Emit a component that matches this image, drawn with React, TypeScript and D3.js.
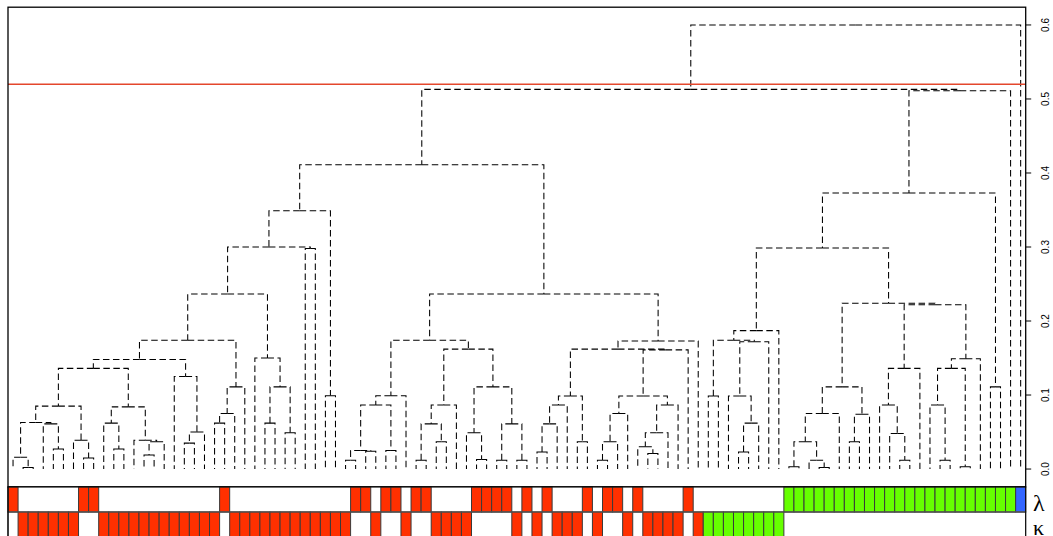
import React from "react";
import * as d3 from "d3";

type TreeNode = number | [number, TreeNode, TreeNode];

// ---- data: colour bars (one char per leaf, left to right) ----
const lambdaRow = ["R......RR.", "..........", ".R........", "....RR.RR.", "RR....RRRR", ".R.R...R.R", "R.R....R..", ".......GGG", "GGGGGGGGGG", "GGGGGGGGGG", "B"].join("");
const kappaRow = [".RRRRRR..R", "RRRRRRRRRR", "R.RRRRRRRR", "RRRR..R..R", "..RRRR....", "R.R.RRR.R.", ".R.RRRR.RG", "GGGGGGG...", "..........", "..........", "."].join("");
const rowLabels = ["λ", "κ"];
const cellColors: Record<string, string> = { R: "#ff3000", G: "#66ff00", B: "#3366ff" };

// ---- data: axis ----
const yTicks = [0, 0.1, 0.2, 0.3, 0.4, 0.5, 0.6];
const yTickLabels = ["0.0", "0.1", "0.2", "0.3", "0.4", "0.5", "0.6"];
const cutHeight = 0.52;

// ---- data: dendrogram (node = [height, left, right], leaf = leaf index) ----
const N1: TreeNode = [0.063, [0.016, 0, [0.002, 1, 2]], [0.061, 3, [0.027, 4, 5]]];
const N2: TreeNode = [0.085, N1, [0.039, 6, [0.015, 7, 8]]];
const K084: TreeNode = [0.084, [0.062, 9, [0.027, 10, 11]], [0.039, 12, [0.037, [0.019, 13, 14], 15]]];
const N3: TreeNode = [0.136, N2, K084];
const N4: TreeNode = [0.148, N3, [0.125, 16, [0.05, [0.035, 17, 18], 19]]];
const M111: TreeNode = [0.111, [0.075, [0.062, 20, 21], 22], 23];
const N174: TreeNode = [0.174, N4, M111];
const N150: TreeNode = [0.15, 24, [0.111, [0.062, 25, 26], [0.049, 27, 28]]];
const N6: TreeNode = [0.2365, N174, N150];
const S30: TreeNode = [0.3, N6, [0.298, 29, 30]];
const S35: TreeNode = [0.349, S30, [0.099, 31, 32]];

const U099: TreeNode = [0.099, [0.0865, [0.025, [0.012, 33, 34], [0.024, 35, 36]], [0.025, 37, 38]], 39];
const U162: TreeNode = [0.162, [0.0865, [0.061, [0.012, 40, 41], [0.037, 42, 43]], 44], [0.111, [0.049, 45, [0.013, 46, 47]], [0.061, [0.012, 48, 49], [0.012, 50, 51]]]];
const U174: TreeNode = [0.174, U099, U162];
const A099: TreeNode = [0.0986, [0.0865, [0.061, [0.023, 52, 53], 54], 55], [0.037, 56, 57]];
const C099: TreeNode = [0.0986, [0.075, [0.037, [0.012, 58, 59], 60], 61], [0.0865, [0.049, [0.03, 62, [0.021, 63, 64]], 65], 66]];
const V173: TreeNode = [0.173, [0.162, A099, [0.161, C099, 67]], 68];
const T236: TreeNode = [0.2365, U174, V173];
const L411: TreeNode = [0.411, S35, T236];

const W187: TreeNode = [0.187, [0.174, [0.0986, 69, 70], [0.172, [0.0986, 71, [0.062, [0.023, 72, 73], 74]], 75]], 76];
const W111: TreeNode = [0.111, [0.075, [0.037, [0.003, 77, 78], [0.012, 79, [0.002, 80, 81]]], 82], [0.074, [0.037, 83, 84], 85]];
const R136: TreeNode = [0.136, [0.0865, 86, [0.048, 87, [0.012, 88, 89]]], 90];
const R149: TreeNode = [0.149, [0.136, [0.0865, 91, [0.012, 92, 93]], [0.003, 94, 95]], 96];
const W224: TreeNode = [0.224, W111, [0.222, R136, R149]];
const W299: TreeNode = [0.2986, W187, W224];
const W373: TreeNode = [0.373, W299, [0.111, 97, 98]];
const R513: TreeNode = [0.513, L411, [0.511, W373, 99]];
const root: TreeNode = [0.6, R513, 100];

const W = 1053;
const H = 536;
const left = 8;
const right = 1025.7;
const top = 7.2;
const bottom = 486.8;
const rowH = 25.2;

export default function App() {
  const n = lambdaRow.length;
  const x = d3.scaleLinear().domain([-0.5, n - 0.5]).range([left, right]);
  const y = d3.scaleLinear().domain([-0.024, 0.624]).range([bottom, top]);
  const cellW = x(1) - x(0);

  const edges: string[] = [];
  const walk = (nd: TreeNode): { x: number; h: number } => {
    if (typeof nd === "number") return { x: nd, h: 0 };
    const [h, l, r] = nd;
    const pl = walk(l);
    const pr = walk(r);
    const cx = (pl.x + pr.x) / 2;
    for (const c of [pl, pr]) {
      edges.push(`M${x(cx)},${y(h)}H${x(c.x)}V${y(c.h)}`);
    }
    return { x: cx, h };
  };
  walk(root);

  const rows = [lambdaRow, kappaRow];

  return (
    <svg
      width={W}
      height={H}
      style={{ position: "absolute", left: 0, top: 0, background: "#fff" }}
    >
      <rect x={0} y={0} width={W} height={H} fill="#fff" />
      <g fill="none" stroke="#000" strokeWidth={1.05} strokeDasharray="6.5,3.5">
        {edges.map((d, i) => (
          <path key={i} d={d} />
        ))}
      </g>
      <line x1={left} x2={right} y1={y(cutHeight)} y2={y(cutHeight)} stroke="#e4472c" strokeWidth={1.5} />
      {/* colour bars */}
      {rows.map((row, ri) => {
        const y0 = bottom + ri * rowH;
        return (
          <g key={ri}>
            {row.split("").map((c, i) =>
              c === "." ? null : (
                <rect
                  key={i}
                  x={x(i) - cellW / 2}
                  y={y0}
                  width={cellW}
                  height={rowH}
                  fill={cellColors[c]}
                  stroke="#3a3a3a"
                  strokeWidth={1}
                />
              )
            )}
            <rect x={left} y={y0} width={right - left} height={rowH} fill="none" stroke="#555" strokeWidth={1} />
            <text
              x={1033}
              y={y0 + (ri === 0 ? 24 : 22.5)}
              fontFamily="'Liberation Serif', 'DejaVu Serif', serif"
              fontSize={ri === 0 ? 24 : 22}
              fill="#000"
            >
              {rowLabels[ri]}
            </text>
          </g>
        );
      })}
      {/* plot box */}
      <rect x={left} y={top} width={right - left} height={bottom - top} fill="none" stroke="#000" strokeWidth={1.3} />
      <line x1={left} x2={left} y1={bottom} y2={H} stroke="#000" strokeWidth={1.3} />
      <line x1={right} x2={right} y1={bottom} y2={H} stroke="#000" strokeWidth={1} />
      {/* right axis */}
      {yTicks.map((v, i) => (
        <g key={i}>
          <line x1={right} x2={right + 5.5} y1={y(v)} y2={y(v)} stroke="#000" strokeWidth={1} />
          <text
            transform={`translate(${1048.5},${y(v)}) rotate(-90)`}
            textAnchor="middle"
            fontFamily="'Liberation Sans', Arial, sans-serif"
            fontSize={10}
            fill="#000"
          >
            {yTickLabels[i]}
          </text>
        </g>
      ))}
    </svg>
  );
}
